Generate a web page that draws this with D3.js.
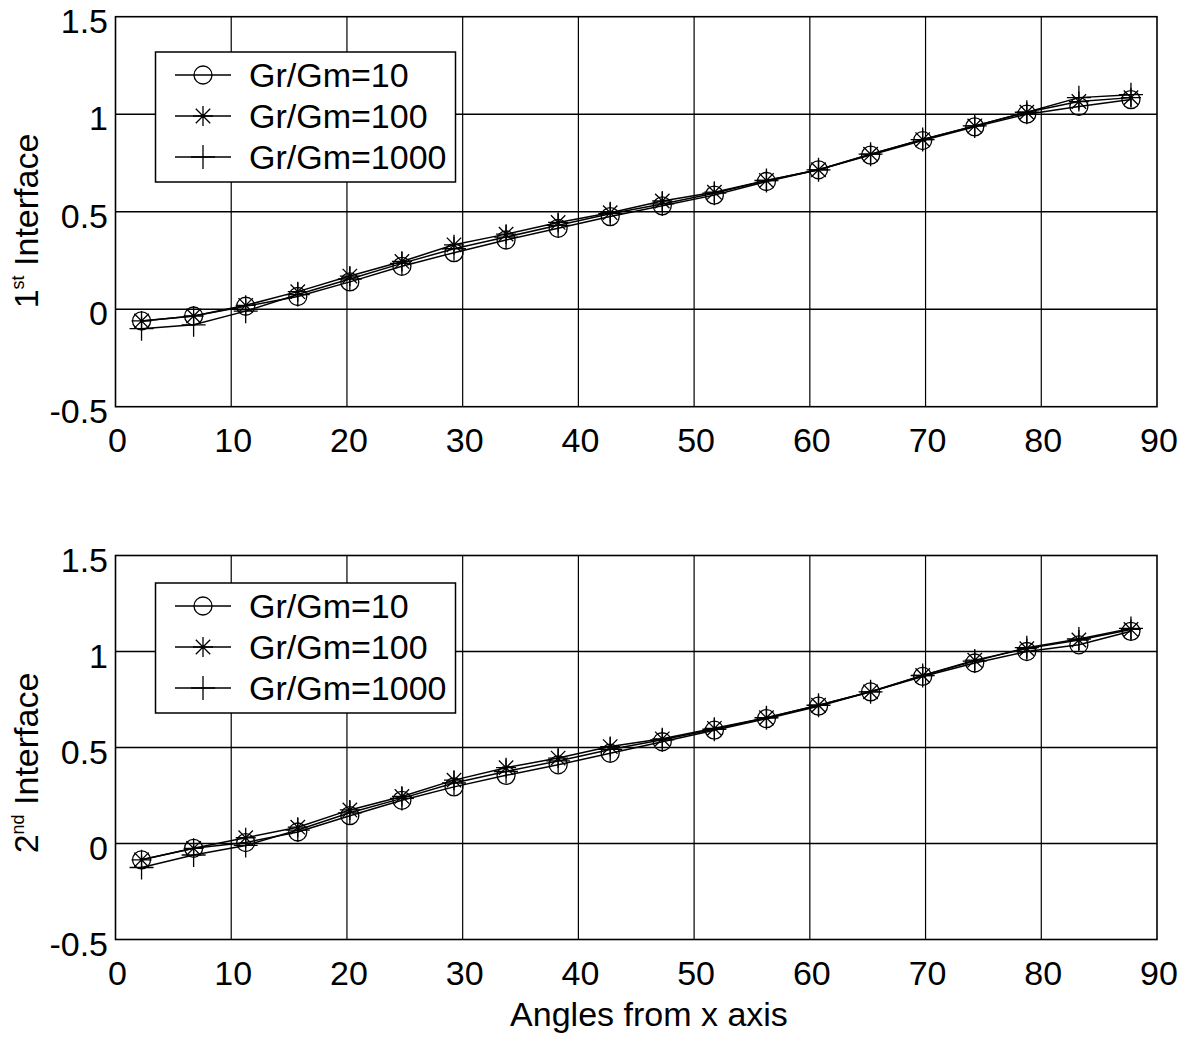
<!DOCTYPE html>
<html>
<head>
<meta charset="utf-8">
<title>Interface stress vs angle</title>
<script src="https://cdn.jsdelivr.net/npm/d3@7"></script>
<style>
  body { margin: 0; background: #fff; }
  text { font-family: "Liberation Sans", Arial, Helvetica, sans-serif; fill: #000; }
</style>
</head>
<body>
<div id="chart"></div>
<script>
// data
const angles = [2.25, 6.75, 11.25, 15.75, 20.25, 24.75, 29.25, 33.75, 38.25, 42.75,
                47.25, 51.75, 56.25, 60.75, 65.25, 69.75, 74.25, 78.75, 83.25, 87.75]

const seriesNames = ['Gr/Gm=10', 'Gr/Gm=100', 'Gr/Gm=1000']

const first10   = [-0.06, -0.035, 0.015, 0.065, 0.14, 0.22, 0.29, 0.355, 0.415, 0.475,
                   0.53, 0.585, 0.655, 0.715, 0.79, 0.865, 0.935, 1.0, 1.04, 1.075]
const first100  = [-0.06, -0.035, 0.02, 0.09, 0.17, 0.245, 0.33, 0.385, 0.445, 0.495,
                   0.555, 0.6, 0.66, 0.715, 0.795, 0.87, 0.94, 1.01, 1.065, 1.085]
const first1000 = [-0.10, -0.08, -0.01, 0.075, 0.155, 0.235, 0.31, 0.37, 0.43, 0.49,
                   0.54, 0.595, 0.66, 0.715, 0.795, 0.87, 0.94, 1.01, 1.085, 1.10]

const second10   = [-0.085, -0.025, 0.005, 0.06, 0.145, 0.225, 0.295, 0.355, 0.41, 0.47,
                    0.53, 0.59, 0.65, 0.715, 0.79, 0.87, 0.94, 1.0, 1.035, 1.105]
const second100  = [-0.085, -0.025, 0.03, 0.085, 0.175, 0.245, 0.33, 0.395, 0.445, 0.505,
                    0.545, 0.6, 0.655, 0.72, 0.79, 0.875, 0.955, 1.015, 1.06, 1.115]
const second1000 = [-0.125, -0.06, -0.01, 0.07, 0.16, 0.235, 0.315, 0.375, 0.43, 0.49,
                    0.54, 0.595, 0.655, 0.72, 0.79, 0.875, 0.95, 1.02, 1.065, 1.12]

const xTicks = [0, 10, 20, 30, 40, 50, 60, 70, 80, 90]
const yTicks = [-0.5, 0, 0.5, 1, 1.5]
const yTickLabels = ['-0.5', '0', '0.5', '1', '1.5']

const W = 1187, H = 1040
const svg = d3.select('#chart').append('svg')
  .attr('width', W).attr('height', H)
  .attr('viewBox', '0 0 ' + W + ' ' + H)

svg.append('rect').attr('width', W).attr('height', H).attr('fill', '#fff')

const x = d3.scaleLinear().domain([0, 90]).range([115.5, 1157])

// marker shapes
function markerPath(type) {
  if (type === 'circle') {
    const r = 9
    return 'M' + r + ',0A' + r + ',' + r + ' 0 1,1 ' + (-r) + ',0A' + r + ',' + r + ' 0 1,1 ' + r + ',0Z'
  }
  if (type === 'star') {
    const s = 10, d = 7.2
    return 'M0,' + (-s) + 'V' + s + 'M' + (-s) + ',0H' + s +
      'M' + (-d) + ',' + (-d) + 'L' + d + ',' + d + 'M' + (-d) + ',' + d + 'L' + d + ',' + (-d)
  }
  const p = 12
  return 'M0,' + (-p) + 'V' + p + 'M' + (-p) + ',0H' + p
}
const markers = ['circle', 'star', 'plus']

function panel(cfg) {
  const y = d3.scaleLinear().domain([-0.5, 1.5]).range([cfg.bottom, cfg.top])
  const g = svg.append('g')

  // grid
  g.selectAll('.vgrid').data(xTicks.slice(1, -1)).enter().append('line')
    .attr('x1', d => x(d)).attr('x2', d => x(d))
    .attr('y1', y(-0.5)).attr('y2', y(1.5))
    .attr('stroke', '#000').attr('stroke-width', 1.2)
  g.selectAll('.hgrid').data(yTicks.slice(1, -1)).enter().append('line')
    .attr('x1', x(0)).attr('x2', x(90))
    .attr('y1', d => y(d)).attr('y2', d => y(d))
    .attr('stroke', '#000').attr('stroke-width', 1.4)

  // box
  g.append('rect')
    .attr('x', x(0)).attr('y', y(1.5))
    .attr('width', x(90) - x(0)).attr('height', y(-0.5) - y(1.5))
    .attr('fill', 'none').attr('stroke', '#000').attr('stroke-width', 1.6)

  // tick labels
  g.selectAll('.xt').data(xTicks).enter().append('text')
    .attr('x', d => x(d) + 2).attr('y', y(-0.5) + 45)
    .attr('text-anchor', 'middle').attr('font-size', 34)
    .text(d => d)
  g.selectAll('.yt').data(yTicks).enter().append('text')
    .attr('x', 108).attr('y', d => y(d) + 16)
    .attr('text-anchor', 'end').attr('font-size', 34)
    .text((d, i) => yTickLabels[i])

  // y label
  const yl = g.append('text')
    .attr('transform', 'translate(38,' + cfg.labelY + ') rotate(-90)')
    .attr('text-anchor', 'middle').attr('font-size', 34)
  yl.append('tspan').text(cfg.ordinal)
  yl.append('tspan').attr('font-size', 18).attr('dy', -14).text(cfg.suffix)
  yl.append('tspan').attr('dy', 14).text(' Interface')

  // series
  const line = d3.line().x((d, i) => x(angles[i])).y(d => y(d))
  cfg.series.forEach((vals, k) => {
    g.append('path').datum(vals).attr('d', line)
      .attr('fill', 'none').attr('stroke', '#000').attr('stroke-width', 1.5)
    g.selectAll('.m' + k).data(vals).enter().append('path')
      .attr('transform', (d, i) => 'translate(' + x(angles[i]) + ',' + y(d) + ')')
      .attr('d', markerPath(markers[k]))
      .attr('fill', 'none').attr('stroke', '#000').attr('stroke-width', 1.3)
  })

  // legend
  const lg = g.append('g')
  lg.append('rect')
    .attr('x', 155.5).attr('y', cfg.legendTop)
    .attr('width', 300).attr('height', 130)
    .attr('fill', '#fff').attr('stroke', '#000').attr('stroke-width', 1.5)
  seriesNames.forEach((name, k) => {
    const ry = cfg.legendTop + 23 + k * 41
    lg.append('line').attr('x1', 175).attr('x2', 231).attr('y1', ry).attr('y2', ry)
      .attr('stroke', '#000').attr('stroke-width', 1.3)
    lg.append('path').attr('transform', 'translate(203,' + ry + ')')
      .attr('d', markerPath(markers[k]))
      .attr('fill', 'none').attr('stroke', '#000').attr('stroke-width', 1.3)
    lg.append('text').attr('x', 249).attr('y', ry + 12)
      .attr('font-size', 34).text(name)
  })
}

panel({ top: 16.7, bottom: 406.7, labelY: 221, ordinal: '1', suffix: 'st', legendTop: 52,
        series: [first10, first100, first1000] })
panel({ top: 555.5, bottom: 939.5, labelY: 763, ordinal: '2', suffix: 'nd', legendTop: 583,
        series: [second10, second100, second1000] })

svg.append('text').attr('x', 649).attr('y', 1026)
  .attr('text-anchor', 'middle').attr('font-size', 34)
  .text('Angles from x axis')
</script>
</body>
</html>
